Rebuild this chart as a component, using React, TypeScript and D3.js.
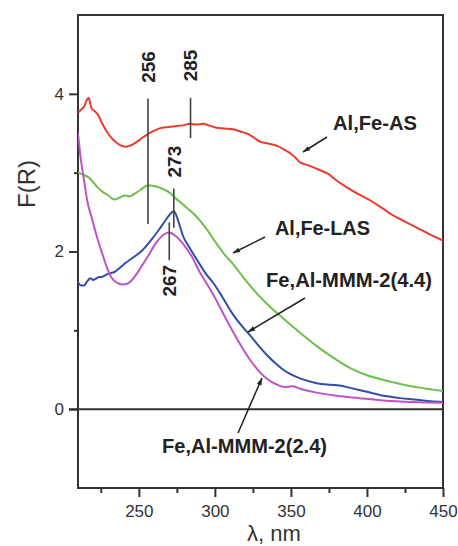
import React, { useEffect, useRef } from 'react';
import * as d3 from 'd3';

// wavelength (nm) / F(R)
const asLambda = [210, 212, 214, 216, 217, 218, 219, 221, 223, 226, 230, 233, 236, 241, 244, 248, 252, 256, 261, 265, 270, 274, 279, 284, 288, 292, 296, 301, 306, 312, 317, 322, 326, 330, 335, 341, 345, 350, 353, 356, 362, 368, 374, 380, 387, 395, 402, 410, 417, 425, 433, 441, 450];
const asF = [3.76, 3.8, 3.84, 3.93, 3.95, 3.88, 3.81, 3.78, 3.74, 3.62, 3.49, 3.42, 3.37, 3.33, 3.34, 3.38, 3.44, 3.49, 3.54, 3.57, 3.58, 3.59, 3.6, 3.62, 3.61, 3.62, 3.6, 3.57, 3.56, 3.55, 3.52, 3.49, 3.44, 3.39, 3.37, 3.34, 3.3, 3.24, 3.19, 3.13, 3.09, 3.04, 2.99, 2.9, 2.81, 2.72, 2.65, 2.55, 2.46, 2.38, 2.3, 2.22, 2.14];

const lasLambda = [210, 214, 217, 220, 223, 226, 230, 234, 237, 241, 244, 247, 251, 256, 260, 265, 270, 274, 280, 287, 294, 300, 306, 312, 320, 328, 334, 345, 356, 367, 378, 389, 400, 411, 422, 436, 450];
const lasF = [3.0, 2.97, 2.94, 2.88, 2.81, 2.76, 2.71, 2.66, 2.68, 2.71, 2.7, 2.73, 2.78, 2.84, 2.83, 2.8, 2.75, 2.68, 2.58, 2.46, 2.3, 2.13, 1.97, 1.84, 1.64, 1.46, 1.34, 1.15, 0.97, 0.8, 0.65, 0.52, 0.43, 0.37, 0.32, 0.27, 0.23];

const mmm44Lambda = [210, 212, 214, 216, 218, 220, 223, 226, 230, 234, 238, 241, 246, 252, 257, 263, 267, 270, 273, 275, 277, 279, 283, 290, 294, 299, 305, 312, 318, 323, 329, 334, 340, 345, 350, 356, 367, 376, 382, 389, 400, 411, 422, 433, 442, 450];
const mmm44F = [1.61, 1.57, 1.57, 1.62, 1.66, 1.64, 1.67, 1.68, 1.72, 1.74, 1.8, 1.85, 1.92, 2.01, 2.12, 2.27, 2.38, 2.46, 2.51, 2.44, 2.32, 2.2, 2.06, 1.84, 1.72, 1.6, 1.42, 1.2, 1.05, 0.94, 0.8, 0.69, 0.58, 0.5, 0.44, 0.39, 0.33, 0.31, 0.3, 0.27, 0.22, 0.17, 0.14, 0.12, 0.1, 0.09];

const mmm24Lambda = [210, 212, 214, 216, 219, 223, 226, 229, 232, 236, 240, 244, 248, 252, 256, 261, 266, 270, 274, 279, 285, 290, 296, 301, 305, 308, 312, 318, 323, 330, 334, 341, 346, 351, 356, 367, 380, 395, 411, 430, 450];
const mmm24F = [3.5, 3.15, 2.9, 2.65, 2.43, 2.15, 1.97, 1.8, 1.67, 1.6, 1.58, 1.61, 1.7, 1.82, 1.94, 2.1, 2.21, 2.24, 2.2, 2.1, 1.93, 1.74, 1.55, 1.38, 1.23, 1.12, 0.98, 0.78, 0.63, 0.46, 0.39, 0.31, 0.28, 0.29, 0.26, 0.21, 0.17, 0.14, 0.11, 0.09, 0.08];

const seriesNames = ['Al,Fe-AS', 'Al,Fe-LAS', 'Fe,Al-MMM-2(4.4)', 'Fe,Al-MMM-2(2.4)'];
const seriesColors = ['#ee3a2c', '#6cc04c', '#2f4ea8', '#c052c4'];

const xMajorTicks = [250, 300, 350, 400, 450];
const xMinorTicks = [225, 275, 325, 375, 425];
const yMajorTicks = [0, 2, 4];
const yMinorTicks = [1, 3];

// peak markers: label, wavelength where the bar stands
const peakLabels = ['256', '285', '273', '267'];
const peakLambda = [256, 284, 273, 270];

const W = 458;
const H = 546;
const left = 78, right = 443, top = 15, bottom = 488;
const font = 'Liberation Sans, Arial, Helvetica, sans-serif';

export default function App() {
  const xAxisRef = useRef<SVGGElement>(null);
  const xMinorRef = useRef<SVGGElement>(null);
  const yAxisRef = useRef<SVGGElement>(null);
  const yMinorRef = useRef<SVGGElement>(null);

  const x = d3.scaleLinear().domain([210, 450]).range([left, right]);
  const y = d3.scaleLinear().domain([-1, 5]).range([bottom, top]);

  const line = d3.line<[number, number]>()
    .x(d => x(d[0]))
    .y(d => y(d[1]))
    .curve(d3.curveMonotoneX);

  const series = [
    d3.zip(asLambda, asF),
    d3.zip(lasLambda, lasF),
    d3.zip(mmm44Lambda, mmm44F),
    d3.zip(mmm24Lambda, mmm24F),
  ] as [number, number][][];

  useEffect(() => {
    const style = (g: any) => {
      g.select('.domain').remove();
      g.selectAll('line').attr('stroke', '#333').attr('stroke-width', 2);
      g.selectAll('text').attr('font-family', font).attr('font-size', 17).attr('fill', '#333');
    };
    d3.select(xAxisRef.current!)
      .call(d3.axisBottom(x).tickValues(xMajorTicks).tickSize(9).tickSizeOuter(0).tickPadding(8).tickFormat(d3.format('d')) as any)
      .call(style);
    d3.select(xMinorRef.current!)
      .call(d3.axisBottom(x).tickValues(xMinorTicks).tickSize(5).tickSizeOuter(0).tickFormat(() => '') as any)
      .call(style);
    d3.select(yAxisRef.current!)
      .call(d3.axisLeft(y).tickValues(yMajorTicks).tickSize(9).tickSizeOuter(0).tickPadding(5).tickFormat(d3.format('d')) as any)
      .call(style);
    d3.select(yMinorRef.current!)
      .call(d3.axisLeft(y).tickValues(yMinorTicks).tickSize(4).tickSizeOuter(0).tickFormat(() => '') as any)
      .call(style);
  }, []);

  // bar extents (F units) and label centres for the peak markers
  const peakBars = [[2.35, 3.94, 4.34], [3.44, 3.95, 4.36], [2.3, 2.8, 3.14], [1.89, 2.37, 1.63]];

  const labelPos = [
    { tx: 333, ty: 130, ax: [327, 137, 303, 152], w: 84 },
    { tx: 275, ty: 235, ax: [265, 237, 233, 253], w: 95 },
    { tx: 266, ty: 287, ax: [305, 298, 248, 332], w: 166 },
    { tx: 162, ty: 453, ax: [238, 433, 262, 378], w: 165 },
  ];

  return (
    <svg width={W} height={H} style={{ position: 'absolute', left: 0, top: 0, background: '#fff' }}>
      <defs>
        <marker id="arr" viewBox="0 0 10 10" refX="10" refY="5" markerWidth="9" markerHeight="7" orient="auto" markerUnits="userSpaceOnUse">
          <path d="M0,1.5 L10,5 L0,8.5 Z" fill="#222" />
        </marker>
        <clipPath id="plot">
          <rect x={left} y={top} width={right - left} height={bottom - top} />
        </clipPath>
      </defs>

      {/* frame */}
      <rect x={left} y={top} width={right - left} height={bottom - top} fill="none" stroke="#333" strokeWidth={2} />
      <line x1={left - 9} x2={right} y1={y(0)} y2={y(0)} stroke="#333" strokeWidth={2} />
      <g ref={xAxisRef} transform={`translate(0,${bottom})`} />
      <g ref={xMinorRef} transform={`translate(0,${bottom})`} />
      <g ref={yAxisRef} transform={`translate(${left},0)`} />
      <g ref={yMinorRef} transform={`translate(${left},0)`} />

      <g clipPath="url(#plot)">
        {series.map((s, i) => (
          <path key={i} d={line(s) || ''} fill="none" stroke={seriesColors[i]} strokeWidth={2} strokeLinejoin="round" />
        ))}
      </g>

      {peakLabels.map((lab, i) => {
        const px = x(peakLambda[i]);
        const [y1, y2, yl] = peakBars[i];
        return (
          <g key={lab}>
            <line x1={px} x2={px} y1={y(y1)} y2={y(y2)} stroke="#444" strokeWidth={1.6} />
            <text transform={`translate(${px},${y(yl)}) rotate(-90)`} textAnchor="middle" dy="0.36em"
              fontFamily={font} fontWeight="bold" fontSize={19} fill="#222">{lab}</text>
          </g>
        );
      })}

      {seriesNames.map((name, i) => {
        const p = labelPos[i];
        return (
          <g key={name}>
            <text x={p.tx} y={p.ty} fontFamily={font} fontWeight="bold" fontSize={20} fill="#222"
              textLength={p.w} lengthAdjust="spacingAndGlyphs">{name}</text>
            <line x1={p.ax[0]} y1={p.ax[1]} x2={p.ax[2]} y2={p.ax[3]} stroke="#222" strokeWidth={1.5} markerEnd="url(#arr)" />
          </g>
        );
      })}

      <text transform="translate(35,184) rotate(-90)" textAnchor="middle" fontFamily={font} fontSize={24} fill="#333">F(R)</text>
      <text x={274} y={541} textAnchor="middle" fontFamily={font} fontSize={22} fill="#333">λ, nm</text>
    </svg>
  );
}
